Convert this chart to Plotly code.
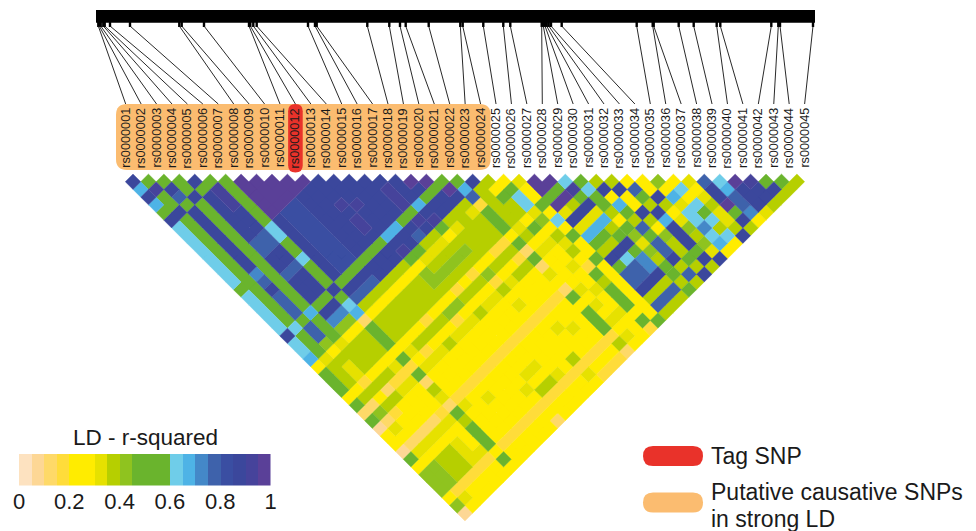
import plotly.graph_objects as go

W, H = 976, 531
SNP_NAMES = [f"rs{n:07d}" for n in range(1, 46)]
TAG_SNP = "rs0000012"
CAUSAL_LAST = 24

# position of each SNP along the region bar (region units, bar = 0..719)
SNP_POS = [2.3, 3.3, 4.7, 7.3, 8.7, 14, 34, 83.3, 85.7, 108, 153, 154.3, 157.3, 160.7, 212, 219, 220.7,
           271.3, 293.3, 304, 309.7, 332.7, 364.3, 366.7, 387.3, 407.3, 414.3, 445.7, 447.3, 449, 450.7,
           452.7, 455, 465.7, 540.7, 556.7, 557.7, 582.7, 597.7, 620.7, 624.3, 675.3, 682.3, 684, 717]

# r-squared x100, SNP i against every later SNP
LD_01 = [85, 67, 85, 67, 50, 85] + [62] * 8 + [50] + [62] * 5 + [85, 62, 62, 67, 25, 47, 47, 47, 25, 50, 12, 50, 8, 25, 25, 8, 50, 25, 42, 42, 42, 25, 42, 8]
LD_02 = [50, 91, 50, 50, 85] + [50] * 14 + [62, 50, 50, 50, 32, 37, 37, 37, 25, 37, 12, 42, 12, 32, 25, 12, 32, 25, 42, 42, 42, 17, 32, 25]
LD_03 = [50, 85, 77, 50] + [85] * 8 + [72, 77, 85, 77, 77, 77, 50, 77, 77, 42, 25, 37, 32, 32, 17, 37, 25, 37, 17, 25, 25, 12, 32, 25, 37, 37, 37, 17, 25, 25]
LD_04 = [50, 50, 85] + [50] * 14 + [67, 50, 50, 50, 32, 37, 37, 37, 25, 37, 12, 37, 25, 25, 25, 12, 32, 25, 37, 37, 37, 17, 25, 25]
LD_05 = [85, 50] + [85] * 6 + [77, 77, 85, 85, 77, 85, 85, 85, 50, 85, 72, 42, 25, 37, 37, 37, 25, 37, 17, 32, 25, 25, 25, 12, 32, 25, 32, 32, 32, 17, 25, 25]
LD_06 = [50, 91, 91, 91, 85, 85, 85, 77, 77, 85, 85, 77, 85, 85, 85, 50, 85, 72, 42, 25, 37, 37, 37, 25, 32, 17, 32, 25, 25, 25, 17, 32, 25, 25, 25, 32, 17, 25, 25]
LD_07 = [50] * 6 + [62, 62, 50, 50, 62, 50, 50, 50, 85, 50, 62, 67, 12, 50, 50, 50, 25, 50, 17, 50, 12, 37, 32, 12, 50, 37, 45, 45, 45, 25, 50, 25]
LD_08 = [97] * 5 + [85] * 8 + [50, 85, 77, 37, 25, 37, 37, 37, 25, 32, 25, 32, 25, 25, 25, 17, 32, 25, 25, 25, 25, 17, 25, 25]
LD_09 = [97] * 4 + [82] * 8 + [50, 85, 77, 37, 25, 37, 37, 37, 25, 37, 17, 32, 25, 25, 25, 17, 25, 25, 25, 25, 25, 17, 25, 25]
LD_10 = [97] * 3 + [82] * 8 + [50, 85, 77, 37, 25, 37, 37, 37, 25, 37, 25, 32, 25, 25, 25, 17, 25, 32, 25, 25, 25, 17, 25, 25]
LD_11 = [97] * 2 + [85] * 8 + [50, 85, 85, 37, 25, 37, 37, 37, 17, 37, 25, 37, 25, 25, 25, 17, 25, 25, 25, 25, 25, 17, 25, 25]
LD_12 = [97] + [85] * 8 + [50, 85, 85, 37, 25, 37, 37, 37, 25, 37, 25, 32, 25, 25, 25, 17, 25, 25, 25, 25, 25, 17, 25, 25]
LD_13 = [85, 85, 85, 91, 85, 91, 91, 85, 50, 85, 85, 37, 25, 37, 37, 37, 25, 42, 17, 32, 25, 25, 25, 17, 25, 25, 25, 32, 25, 17, 25, 12]
LD_14 = [85, 85, 85, 91, 85, 85, 85, 67, 85, 91, 50, 25, 42, 42, 37, 25, 42, 25, 32, 25, 25, 25, 17, 25, 25, 32, 25, 37, 17, 25, 25]
LD_15 = [85, 85, 85, 85, 85, 85, 67, 85, 85, 50, 32, 37, 42, 37, 17, 37, 25, 37, 25, 25, 25, 17, 25, 25, 32, 25, 37, 17, 25, 25]
LD_16 = [85, 85, 85, 85, 85, 50, 85, 77, 37, 32, 37, 42, 37, 25, 37, 25, 32, 25, 25, 25, 17, 25, 25, 25, 25, 32, 17, 25, 25]
LD_17 = [85, 91, 91, 91, 50, 91, 85, 37, 32, 37, 42, 37, 17, 37, 25, 32, 25, 25, 25, 17, 25, 25, 25, 25, 25, 17, 25, 25]
LD_18 = [85, 85, 85, 67, 85, 91, 50, 25, 37, 42, 37, 25, 42, 17, 37, 25, 32, 25, 17, 25, 25, 25, 25, 37, 17, 32, 25]
LD_19 = [97, 85, 50, 85, 85, 37, 32, 37, 37, 37, 25, 37, 25, 32, 25, 25, 25, 17, 25, 32, 25, 25, 25, 17, 25, 17]
LD_20 = [97, 50, 85, 85, 37, 37, 37, 37, 37, 17, 37, 25, 37, 25, 25, 25, 17, 25, 25, 32, 25, 25, 17, 25, 17]
LD_21 = [50, 97, 85, 37, 32, 37, 37, 37, 17, 37, 17, 37, 25, 25, 25, 17, 25, 25, 25, 25, 25, 17, 25, 17]
LD_22 = [50, 67, 77, 17, 50, 50, 50, 25, 50, 12, 50, 12, 32, 25, 10, 50, 25, 47, 47, 47, 17, 37, 12]
LD_23 = [85, 37, 37, 37, 37, 37, 32, 37, 25, 32, 25, 25, 25, 25, 32, 25, 32, 25, 32, 25, 32, 25]
LD_24 = [37, 25, 50, 37, 37, 25, 50, 25, 32, 25, 25, 32, 25, 25, 32, 25, 25, 32, 25, 25, 25]
LD_25 = [25, 50, 62, 62, 32, 42, 25, 37, 32, 37, 25, 17, 50, 37, 47, 47, 47, 25, 50, 17]
LD_26 = [32, 25, 25, 50, 25, 62, 25, 50, 25, 25, 50, 25, 25, 25, 25, 25, 25, 25, 50]
LD_27 = [97, 97, 50, 97, 32, 85, 32, 67, 50, 37, 85, 50, 77, 77, 85, 37, 77, 37]
LD_28 = [97, 50, 97, 37, 85, 32, 67, 50, 37, 85, 62, 77, 75, 85, 37, 77, 37]
LD_29 = [62, 90, 47, 85, 32, 67, 37, 47, 85, 47, 72, 72, 85, 37, 77, 37]
LD_30 = [50, 62, 47, 47, 37, 25, 50, 42, 32, 42, 37, 50, 47, 37, 50]
LD_31 = [37, 85, 25, 67, 47, 37, 77, 47, 77, 77, 85, 37, 77, 37]
LD_32 = [37, 85, 25, 25, 85, 37, 25, 42, 37, 37, 47, 37, 85]
LD_33 = [25, 77, 47, 37, 85, 67, 85, 85, 85, 47, 85, 37]
LD_34 = [25, 25, 85, 37, 25, 32, 42, 37, 42, 32, 85]
LD_35 = [42, 25, 67, 32, 62, 62, 72, 62, 67, 25]
LD_36 = [25, 62, 25, 62, 47, 62, 37, 62, 25]
LD_37 = [32, 25, 32, 37, 32, 32, 37, 85]
LD_38 = [77, 85, 85, 97, 47, 85, 37]
LD_39 = [62, 67, 77, 77, 72, 25]
LD_40 = [97, 85, 85, 85, 32]
LD_41 = [90, 85, 85, 37]
LD_42 = [50, 85, 37]
LD_43 = [50, 37]
LD_44 = [37]
LD_ROWS = [LD_01, LD_02, LD_03, LD_04, LD_05, LD_06, LD_07, LD_08, LD_09, LD_10, LD_11, LD_12, LD_13, LD_14, LD_15,
           LD_16, LD_17, LD_18, LD_19, LD_20, LD_21, LD_22, LD_23, LD_24, LD_25, LD_26, LD_27, LD_28, LD_29, LD_30,
           LD_31, LD_32, LD_33, LD_34, LD_35, LD_36, LD_37, LD_38, LD_39, LD_40, LD_41, LD_42, LD_43, LD_44]
for _i, _r in enumerate(LD_ROWS):
    assert len(_r) == 44 - _i, (_i, len(_r))

LEGEND_TICKS = [0, 0.2, 0.4, 0.6, 0.8, 1]
LEGEND_LABELS = ["0", "0.2", "0.4", "0.6", "0.8", "1"]
PALETTE = ["#fde2c0", "#fdd795", "#fed968", "#ffdc3a", "#ffec00", "#ffec00", "#e6e100", "#b6cf00", "#8fc31f", "#6ab42d",
           "#6ab42d", "#6ab42d", "#6fcde9", "#4eb3e6", "#4488c8", "#3e62ab", "#3a4ea2", "#3b479c", "#46439b", "#5a4098"]

FONT = "Liberation Sans, Arial, sans-serif"
INK = "#1a1a1a"
ORANGE = "#fbbc70"
RED = "#e9322a"

fig = go.Figure()

# triangle: one filled trace per colour step
xs = {k: [] for k in range(20)}
ys = {k: [] for k in range(20)}
for i, row in enumerate(LD_ROWS):
    for off, v in enumerate(row):
        j = i + 1 + off
        k = min(int(v / 5), 19)
        cx, cy = (i + j) / 2, j - i
        xs[k] += [cx - 0.5, cx, cx + 0.5, cx, cx - 0.5, None]
        ys[k] += [cy, cy - 1, cy, cy + 1, cy, None]
for k in range(20):
    if xs[k]:
        fig.add_trace(go.Scatter(x=xs[k], y=ys[k], xaxis="x2", yaxis="y2", mode="lines", fill="toself",
                                 fillcolor=PALETTE[k], line=dict(color=PALETTE[k], width=0.4),
                                 hoverinfo="skip", showlegend=False))

# label x position in the pixel-space layer
label_x = [125.7 + 15.43 * n for n in range(45)]
BAR_X0 = 96
ticks_x, ticks_y, link_x, link_y = [], [], [], []
for n, p in enumerate(SNP_POS):
    ticks_x += [BAR_X0 + p, BAR_X0 + p, None]
    ticks_y += [22, 27, None]
    link_x += [BAR_X0 + p, label_x[n], None]
    link_y += [26, 104, None]
fig.add_trace(go.Scatter(x=ticks_x, y=ticks_y, mode="lines", line=dict(color="black", width=2.4),
                         hoverinfo="skip", showlegend=False))
fig.add_trace(go.Scatter(x=link_x, y=link_y, mode="lines", line=dict(color="#111111", width=0.9),
                         hoverinfo="skip", showlegend=False))

# legend ramp
fig.add_trace(go.Heatmap(x=[(n + 0.5) / 20 for n in range(20)], y=[0], z=[[(n + 0.5) / 20 for n in range(20)]],
                         xaxis="x3", yaxis="y3", zmin=0, zmax=1, showscale=False, hoverinfo="skip",
                         colorscale=[c for n, col in enumerate(PALETTE) for c in ([n / 20, col], [(n + 1) / 20, col])]))


def pill(x0, y0, x1, y1, r, color):
    path = (f"M {x0 + r} {y0} L {x1 - r} {y0} Q {x1} {y0} {x1} {y0 + r} L {x1} {y1 - r} Q {x1} {y1} {x1 - r} {y1} "
            f"L {x0 + r} {y1} Q {x0} {y1} {x0} {y1 - r} L {x0} {y0 + r} Q {x0} {y0} {x0 + r} {y0} Z")
    return dict(type="path", path=path, xref="x", yref="y", fillcolor=color, line=dict(width=0), layer="below")


tag_x = label_x[SNP_NAMES.index(TAG_SNP)]
shapes = [
    dict(type="rect", xref="x", yref="y", x0=BAR_X0, x1=815, y0=10, y1=22.7, fillcolor="black", line=dict(width=0)),
    pill(116, 104, label_x[CAUSAL_LAST - 1] + 10, 170, 11, ORANGE),
    pill(tag_x - 7.3, 104, tag_x + 7.3, 172.5, 7.3, RED),
    pill(643, 446, 703, 466, 10, RED),
    pill(643, 492.5, 703, 512.5, 10, ORANGE),
]

annotations = [dict(x=label_x[n], y=138, xref="x", yref="y", text=s, textangle=-90, showarrow=False,
                    xanchor="center", yanchor="middle", font=dict(family=FONT, size=12.7, color=INK))
               for n, s in enumerate(SNP_NAMES)]
for text, x, y, anchor, size in [("LD - r-squared", 145, 437, "center", 22.5), ("Tag SNP", 708.5, 456, "left", 23),
                                 ("Putative causative SNPs", 708.5, 492, "left", 23),
                                 ("in strong LD", 708.5, 519, "left", 23)]:
    annotations.append(dict(x=x, y=y, xref="x", yref="y", text=text, showarrow=False, xanchor=anchor,
                            yanchor="middle", font=dict(family=FONT, size=size, color=INK)))

hidden = dict(visible=False, fixedrange=True, automargin=False)
fig.update_layout(
    width=W, height=H, autosize=False, margin=dict(l=0, r=0, t=0, b=0),
    paper_bgcolor="white", plot_bgcolor="rgba(0,0,0,0)", showlegend=False,
    shapes=shapes, annotations=annotations,
    xaxis=dict(range=[0, W], domain=[0, 1], **hidden),
    yaxis=dict(range=[H, 0], domain=[0, 1], **hidden),
    xaxis2=dict(range=[-125.28 / 15.44, (W - 125.28) / 15.44], domain=[0, 1], anchor="y2", **hidden),
    yaxis2=dict(range=[(H - 174) / 7.71, -174 / 7.71], domain=[0, 1], anchor="x2", **hidden),
    xaxis3=dict(range=[0, 1], domain=[19 / W, 270.5 / W], anchor="y3", tickmode="array", tickvals=LEGEND_TICKS,
                ticktext=LEGEND_LABELS, ticks="", ticklen=0, showgrid=False,
                zeroline=False, showline=False, tickangle=0, automargin=False,
                tickfont=dict(family=FONT, size=22, color=INK), fixedrange=True),
    yaxis3=dict(domain=[(H - 485.5) / H, (H - 454) / H], anchor="x3", **hidden),
)
fig.write_html("out.html", config={"displayModeBar": False},
               post_script="document.body.style.margin='0';document.documentElement.style.overflow='hidden';")
